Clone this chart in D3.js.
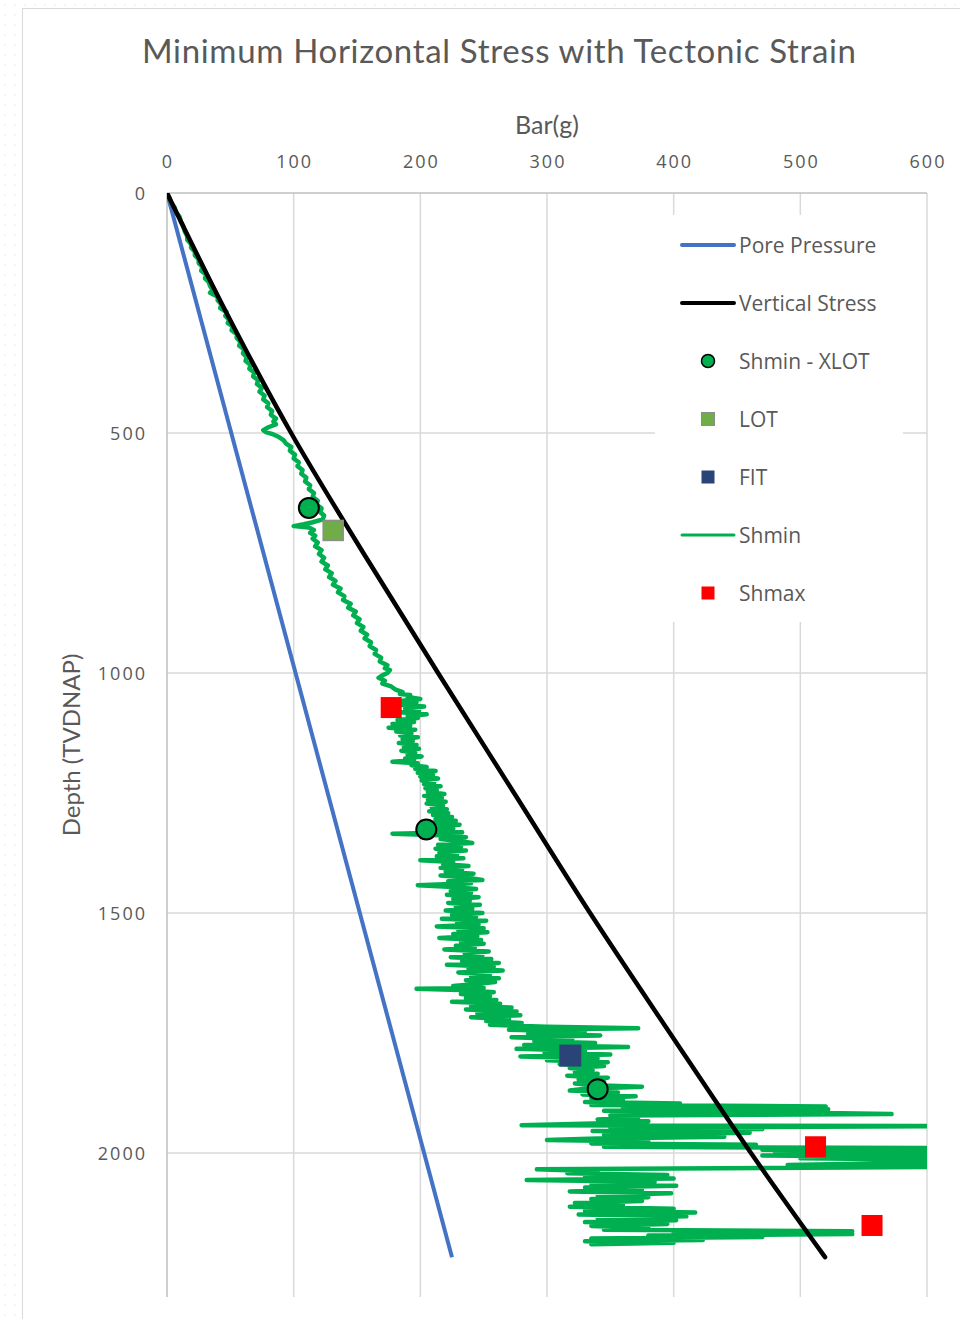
<!DOCTYPE html>
<html>
<head>
<meta charset="utf-8">
<script src="https://cdn.jsdelivr.net/npm/d3@7/dist/d3.min.js"></script>
<style>
  body { margin: 0; background: #fff; }
  svg { display: block; }
</style>
</head>
<body>
<script>
// Axis ticks
const xTicks = [0, 100, 200, 300, 400, 500, 600];
const yTicks = [0, 500, 1000, 1500, 2000];

// Each point is [depth (m), pressure (bar)]
const porePressure = [[0, 0], [2217, 225]];
const verticalStress = [[0, 0], [250, 47], [500, 98], [750, 155], [1000, 214], [1250, 274],
  [1500, 334], [1750, 397], [2000, 461], [2217, 519.5]];

const shminXlot = [[656, 112], [1326, 204.7], [1867, 340]];
const lot = [[703, 131.2]];
const fit = [[1797, 318.4]];
const shmax = [[1072, 177], [1987, 512], [2151, 556.6]];

// Shmin log
const shmin = [
  [0, 0], [10, 2], [20, 3], [30, 6], [40, 7], [50, 10], [60, 11], [70, 13], [80, 14], [90, 16],
  [98, 16], [106, 19], [114, 19], [122, 22], [130, 22], [138, 25], [146, 25], [154, 28], [162, 27], [170, 31],
  [178, 30], [186, 33], [194, 34], [202, 36], [208, 34], [216, 40], [224, 40], [232, 43], [240, 42], [248, 47],
  [256, 46], [264, 49], [271, 48], [278, 52], [286, 51], [294, 55], [302, 55], [310, 58], [318, 57], [326, 61],
  [334, 60], [342, 63], [350, 62], [358, 66], [366, 65], [374, 69], [382, 68], [390, 72], [398, 71], [406, 75],
  [414, 73], [422, 77], [430, 76], [438, 80], [446, 79], [454, 83], [462, 82], [470, 86], [476, 84], [482, 86],
  [488, 80], [494, 76], [498, 78], [503, 84], [508, 88], [515, 92], [522, 94], [529, 98], [537, 97], [545, 101],
  [553, 100], [561, 104], [569, 103], [577, 107], [585, 106], [593, 110], [601, 109], [609, 113], [617, 112], [625, 116],
  [633, 115], [641, 119], [649, 118], [657, 122], [665, 121], [672, 124], [680, 123], [686, 115], [690, 108], [694, 100],
  [697, 112], [702, 116], [708, 113], [714, 117], [720, 115], [728, 119], [736, 117], [744, 122], [752, 120], [760, 124],
  [768, 122], [776, 127], [784, 125], [792, 130], [800, 128], [808, 133], [816, 131], [824, 137], [832, 135], [840, 140],
  [848, 139], [856, 145], [864, 143], [872, 149], [880, 147], [888, 152], [896, 150], [904, 155], [912, 153], [920, 158],
  [928, 156], [936, 161], [944, 160], [952, 165], [960, 164], [968, 169], [976, 168], [984, 174], [990, 172], [994, 176],
  [1000, 174], [1005, 170], [1010, 167], [1016, 172], [1022, 170], [1028, 177], [1034, 180], [1040, 186], [1044, 184], [1046, 192],
  [1050, 190], [1054, 200], [1058, 186], [1062, 197], [1066, 183], [1070, 203], [1074, 188], [1078, 199], [1082, 184], [1086, 205],
  [1090, 190], [1094, 198], [1098, 182],
  [1102, 195], [1106, 178], [1110, 192], [1114, 175], [1118, 196], [1122, 181], [1126, 193], [1130, 184], [1134, 198], [1138, 186],
  [1142, 194], [1146, 183], [1150, 197],
  [1154, 187], [1158, 199], [1162, 185], [1166, 196], [1170, 190], [1174, 201], [1178, 188], [1182, 195], [1185, 178], [1188, 198],
  [1192, 193], [1196, 205], [1200, 196],
  [1204, 212], [1208, 198], [1212, 210], [1216, 200], [1220, 214], [1224, 201], [1228, 211], [1232, 203], [1236, 216], [1240, 204],
  [1244, 213], [1248, 206],
  [1252, 219], [1256, 203], [1260, 217], [1264, 206], [1268, 220], [1272, 205], [1276, 218], [1280, 209], [1284, 221], [1288, 207],
  [1292, 222], [1296, 210], [1300, 225],
  [1304, 212], [1308, 228], [1312, 210], [1316, 231], [1320, 214], [1324, 226], [1328, 208], [1332, 233], [1335, 178], [1338, 215],
  [1342, 236], [1346, 216], [1350, 230], [1354, 241], [1358, 214],
  [1362, 232], [1366, 212], [1370, 236], [1374, 215], [1378, 229], [1382, 213], [1386, 234], [1390, 200], [1394, 226], [1398, 218],
  [1402, 238], [1406, 216], [1410, 233], [1414, 220], [1418, 242], [1422, 216], [1426, 236], [1431, 249], [1434, 222], [1438, 240],
  [1442, 198], [1446, 226], [1450, 244],
  [1454, 224], [1458, 240], [1462, 221], [1467, 246], [1471, 226], [1475, 239], [1479, 222], [1483, 247], [1487, 228], [1491, 241],
  [1495, 220], [1500, 249],
  [1504, 225], [1508, 244], [1512, 217], [1516, 252], [1520, 229], [1524, 246], [1528, 213], [1532, 250], [1536, 230], [1540, 253],
  [1544, 226], [1548, 245],
  [1552, 215], [1556, 248], [1560, 232], [1564, 250], [1568, 228], [1572, 243], [1576, 219], [1580, 254], [1584, 235], [1588, 249],
  [1592, 224], [1596, 256],
  [1600, 233], [1604, 262], [1608, 221], [1612, 258], [1616, 238], [1620, 265], [1624, 230], [1628, 255], [1632, 240], [1636, 262],
  [1640, 236], [1644, 259], [1648, 244],
  [1652, 226], [1656, 250], [1658, 197], [1661, 238], [1665, 258], [1669, 232], [1673, 255], [1677, 236], [1681, 260], [1685, 225],
  [1689, 263], [1693, 240], [1697, 272],
  [1701, 236], [1705, 276], [1709, 245], [1713, 279], [1717, 240], [1721, 270], [1725, 252], [1729, 280], [1733, 255], [1737, 300],
  [1740, 372],
  [1743, 270], [1747, 330], [1751, 285], [1755, 342], [1759, 272], [1763, 320], [1767, 290], [1771, 338], [1775, 282], [1779, 364],
  [1783, 276], [1787, 330],
  [1791, 298], [1795, 350], [1799, 279], [1803, 340], [1807, 300], [1811, 348], [1815, 310], [1819, 345], [1823, 318], [1827, 336],
  [1831, 322],
  [1835, 340], [1839, 316], [1843, 348], [1847, 325], [1851, 345], [1855, 322], [1859, 338], [1862, 375], [1866, 330], [1870, 318],
  [1874, 356], [1878, 328], [1882, 370], [1886, 335], [1890, 360], [1894, 330],
  [1897, 405], [1900, 335], [1903, 520], [1906, 360], [1909, 522], [1912, 345], [1915, 480], [1919, 572], [1922, 350], [1926, 372],
  [1930, 340], [1934, 380], [1938, 345],
  [1942, 280], [1944, 620], [1947, 350], [1950, 470], [1954, 336], [1958, 460], [1962, 345], [1966, 440], [1970, 340], [1973, 300],
  [1976, 380], [1980, 335], [1983, 465], [1987, 345],
  [1990, 620], [1993, 470], [1996, 620], [1999, 480], [2002, 620], [2005, 470], [2008, 620], [2011, 500], [2014, 620],
  [2020, 600], [2025, 490], [2029, 620], [2034, 292],
  [2038, 340], [2042, 316], [2046, 395], [2050, 330], [2053, 400], [2056, 284], [2060, 385], [2064, 335], [2068, 402], [2072, 330],
  [2076, 375], [2080, 318], [2084, 398], [2088, 340], [2092, 380],
  [2096, 335], [2100, 375], [2104, 322], [2108, 360], [2112, 318], [2116, 400], [2120, 330], [2124, 417], [2128, 325], [2132, 410],
  [2136, 340], [2140, 402], [2144, 330], [2148, 395],
  [2152, 335], [2156, 380], [2160, 345], [2163, 541], [2166, 400], [2169, 541], [2172, 380], [2175, 470], [2178, 335], [2181, 423],
  [2184, 330], [2187, 400], [2190, 335]
];

const W = 960, H = 1319;
const plot = {left: 167, top: 193, right: 927, bottom: 1297};
const textColor = "#595959";
const tickFont = "'Open Sans', sans-serif";
const titleFont = "Lato, 'Open Sans', sans-serif";

let svg = d3.select("body").append("svg")
  .attr("width", W)
  .attr("height", H);

let defs = svg.append("defs");

// faint dotted page background outside the chart frame
defs.append("pattern")
  .attr("id", "dots")
  .attr("width", 10)
  .attr("height", 10)
  .attr("patternUnits", "userSpaceOnUse")
  .append("circle")
  .attr("cx", 5).attr("cy", 5).attr("r", 0.7)
  .attr("fill", "#e4e4e4");

defs.append("clipPath")
  .attr("id", "plotClip")
  .append("rect")
  .attr("x", plot.left)
  .attr("y", plot.top)
  .attr("width", plot.right - plot.left)
  .attr("height", plot.bottom - plot.top);

svg.append("rect").attr("width", W).attr("height", H).attr("fill", "url(#dots)");
svg.append("rect")
  .attr("x", 22.5).attr("y", 8.5)
  .attr("width", W).attr("height", H)
  .attr("fill", "#fff")
  .attr("stroke", "#d9d9d9");

let x = d3.scaleLinear().domain([0, 600]).range([plot.left, plot.right]);
let y = d3.scaleLinear().domain([0, 2300]).range([plot.top, plot.bottom]);

// Gridlines
svg.append("g").selectAll("line")
  .data(xTicks.slice(1))
  .enter().append("line")
  .attr("x1", d => x(d)).attr("x2", d => x(d))
  .attr("y1", plot.top).attr("y2", plot.bottom)
  .attr("stroke", "#d9d9d9")
  .attr("stroke-width", 1.5);

svg.append("g").selectAll("line")
  .data(yTicks.slice(1))
  .enter().append("line")
  .attr("x1", plot.left).attr("x2", plot.right)
  .attr("y1", d => y(d)).attr("y2", d => y(d))
  .attr("stroke", "#d9d9d9")
  .attr("stroke-width", 1.5);

// Axis lines (top and left)
svg.append("line")
  .attr("x1", plot.left).attr("x2", plot.right)
  .attr("y1", plot.top).attr("y2", plot.top)
  .attr("stroke", "#bfbfbf").attr("stroke-width", 1.5);
svg.append("line")
  .attr("x1", plot.left).attr("x2", plot.left)
  .attr("y1", plot.top).attr("y2", plot.bottom)
  .attr("stroke", "#bfbfbf").attr("stroke-width", 1.5);

// Tick labels
svg.append("g").selectAll("text")
  .data(xTicks)
  .enter().append("text")
  .attr("x", d => x(d) + 1)
  .attr("y", 168)
  .attr("text-anchor", "middle")
  .attr("font-family", tickFont)
  .attr("font-size", 18)
  .attr("letter-spacing", 2)
  .attr("fill", textColor)
  .text(d => d);

svg.append("g").selectAll("text")
  .data(yTicks)
  .enter().append("text")
  .attr("x", 147)
  .attr("y", d => y(d) + 6.5)
  .attr("text-anchor", "end")
  .attr("font-family", tickFont)
  .attr("font-size", 18)
  .attr("letter-spacing", 2)
  .attr("fill", textColor)
  .text(d => d);

// Titles
svg.append("text")
  .attr("x", 499).attr("y", 63)
  .attr("text-anchor", "middle")
  .attr("font-family", titleFont)
  .attr("font-size", 33)
  .attr("textLength", 714)
  .attr("lengthAdjust", "spacing")
  .attr("fill", textColor)
  .text("Minimum Horizontal Stress with Tectonic Strain");

svg.append("text")
  .attr("x", 547).attr("y", 134)
  .attr("text-anchor", "middle")
  .attr("font-family", titleFont)
  .attr("font-size", 25)
  .attr("fill", textColor)
  .text("Bar(g)");

svg.append("text")
  .attr("transform", "translate(80,745) rotate(-90)")
  .attr("text-anchor", "middle")
  .attr("font-family", titleFont)
  .attr("font-size", 24)
  .attr("fill", textColor)
  .text("Depth (TVDNAP)");

// Series
let line = d3.line().x(d => x(d[1])).y(d => y(d[0]));
let series = svg.append("g").attr("clip-path", "url(#plotClip)");

series.append("path")
  .datum(porePressure)
  .attr("d", line)
  .attr("fill", "none")
  .attr("stroke", "#4472c4")
  .attr("stroke-width", 4);

series.append("path")
  .datum(shmin)
  .attr("d", line)
  .attr("fill", "none")
  .attr("stroke", "#00b050")
  .attr("stroke-width", 4.5)
  .attr("stroke-linejoin", "round")
  .attr("stroke-linecap", "round");

series.append("path")
  .datum(verticalStress)
  .attr("d", d3.line().curve(d3.curveMonotoneY).x(d => x(d[1])).y(d => y(d[0])))
  .attr("fill", "none")
  .attr("stroke", "#000")
  .attr("stroke-width", 4.5)
  .attr("stroke-linecap", "round");

// Square markers
function squares(data, size, fill, stroke) {
  series.append("g").selectAll("rect")
    .data(data)
    .enter().append("rect")
    .attr("x", d => x(d[1]) - size / 2)
    .attr("y", d => y(d[0]) - size / 2)
    .attr("width", size)
    .attr("height", size)
    .attr("fill", fill)
    .attr("stroke", stroke || "none")
    .attr("stroke-width", 1.5);
}
squares(lot, 20, "#70ad47", "#8c8c8c");
squares(fit, 22, "#2a4478");
squares(shmax, 21, "#ff0000");

series.append("g").selectAll("circle")
  .data(shminXlot)
  .enter().append("circle")
  .attr("cx", d => x(d[1]))
  .attr("cy", d => y(d[0]))
  .attr("r", 10)
  .attr("fill", "#00b050")
  .attr("stroke", "#000")
  .attr("stroke-width", 2);

// Legend
const legendItems = [
  {name: "Pore Pressure", type: "line", color: "#4472c4"},
  {name: "Vertical Stress", type: "line", color: "#000"},
  {name: "Shmin - XLOT", type: "circle", color: "#00b050"},
  {name: "LOT", type: "square", color: "#70ad47", stroke: "#8c8c8c"},
  {name: "FIT", type: "square", color: "#2a4478"},
  {name: "Shmin", type: "line", color: "#00b050", width: 3},
  {name: "Shmax", type: "square", color: "#ff0000"}
];

let legend = svg.append("g");
legend.append("rect")
  .attr("x", 655).attr("y", 215)
  .attr("width", 248).attr("height", 407)
  .attr("fill", "#fff");

let rows = legend.selectAll("g.item")
  .data(legendItems)
  .enter().append("g")
  .attr("class", "item")
  .attr("transform", (d, i) => "translate(0," + (245 + i * 58) + ")");

rows.filter(d => d.type === "line").append("line")
  .attr("x1", 682).attr("x2", 734)
  .attr("stroke", d => d.color)
  .attr("stroke-width", d => d.width || 4)
  .attr("stroke-linecap", "round");

rows.filter(d => d.type === "circle").append("circle")
  .attr("cx", 708).attr("r", 6.5)
  .attr("fill", d => d.color)
  .attr("stroke", "#000")
  .attr("stroke-width", 1.5);

rows.filter(d => d.type === "square").append("rect")
  .attr("x", 701.5).attr("y", -6.5)
  .attr("width", 13).attr("height", 13)
  .attr("fill", d => d.color)
  .attr("stroke", d => d.stroke || "none")
  .attr("stroke-width", 1);

rows.append("text")
  .attr("x", 739)
  .attr("y", 7.5)
  .attr("font-family", tickFont)
  .attr("font-size", 21)
  .attr("fill", textColor)
  .text(d => d.name);
</script>
</body>
</html>
